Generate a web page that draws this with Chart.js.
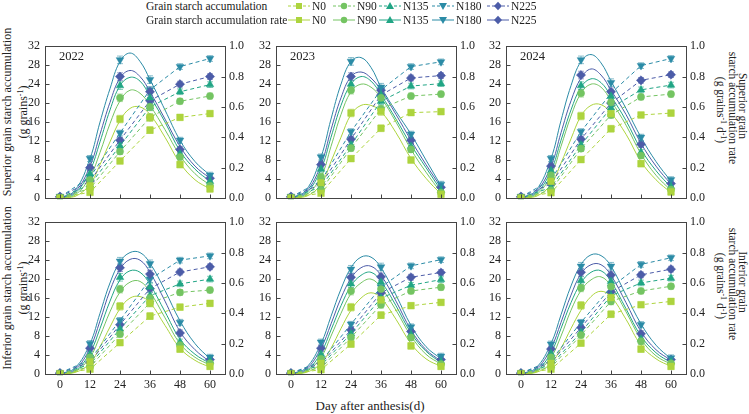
<!DOCTYPE html>
<html lang="en">
<head>
<meta charset="UTF-8">
<title>Grain starch accumulation</title>
<script src="https://cdn.jsdelivr.net/npm/chart.js"></script>
<style>
  body { margin: 0; background: #fff; }
  #page { position: relative; width: 749px; height: 414px; overflow: hidden;
          font-family: 'Liberation Serif', 'Times New Roman', serif; color: #222; }
  canvas.panel { position: absolute; }
  .lbl { position: absolute; white-space: nowrap; font-size: 12px; line-height: 14px; }
  .rotL { transform: translate(-50%, -50%) rotate(-90deg); }
  .rotR { transform: translate(-50%, -50%) rotate(90deg); font-size: 11.5px; }
  sup { font-size: 8px; line-height: 0; vertical-align: 4px; }
  .leg { position: absolute; white-space: nowrap; font-size: 11.5px; line-height: 14px; }
  svg.sym { position: absolute; }
</style>
</head>
<body>
<div id="page">
  <!-- left axis titles -->
  <div class="lbl rotL" style="left:7px;top:112px">Superior grain starch accumulation</div>
  <div class="lbl rotL" style="left:23px;top:112px">(g grains<sup>-1</sup>)</div>
  <div class="lbl rotL" style="left:7px;top:288px">Inferior grain starch accumulation</div>
  <div class="lbl rotL" style="left:23px;top:288px">(g grains<sup>-1</sup>)</div>
  <!-- right axis titles -->
  <div class="lbl rotR" style="left:743px;top:106px">Superior grain</div>
  <div class="lbl rotR" style="left:733px;top:108px">starch accumulation rate</div>
  <div class="lbl rotR" style="left:721px;top:110px">(g grains<sup>-1</sup> d<sup>-1</sup>)</div>
  <div class="lbl rotR" style="left:743px;top:282px">Inferior grain</div>
  <div class="lbl rotR" style="left:733px;top:284px">starch accumulation rate</div>
  <div class="lbl rotR" style="left:721px;top:286px">(g grains<sup>-1</sup> d<sup>-1</sup>)</div>
  <!-- x title -->
  <div class="lbl" style="left:370px;top:406px;transform:translate(-50%,-50%);font-size:13px">Day after anthesis(d)</div>
</div>

<script>
// sampling days and axis ticks
const days = [0, 12, 24, 36, 48, 60];
const fitDays = [0, 6, 12, 16, 20, 24, 28, 32, 36, 42, 48, 54, 60];
const treatments = ['N0', 'N90', 'N135', 'N180', 'N225'];
const years = ['2022', '2023', '2024'];
const xTicks = [0, 12, 24, 36, 48, 60];
const accTicks = [0, 4, 8, 12, 16, 20, 24, 28, 32];
const rateTicks = [0, 0.2, 0.4, 0.6, 0.8, 1.0];
const accErr = [0.1, 0.4, 0.6, 0.7, 0.6, 0.6];
const rateErr = [0.005, 0.02, 0.025, 0.025, 0.02, 0.02];

// rows are N0, N90, N135, N180, N225
// superior grain 2022
const supAcc22 = [
  [0.1, 1.2, 7.8, 14.3, 17.0, 17.8],
  [0.1, 2.0, 9.8, 17.0, 20.4, 21.5],
  [0.1, 2.8, 11.0, 19.2, 22.4, 23.9],
  [0.2, 4.4, 13.7, 22.8, 27.7, 29.4],
  [0.2, 3.6, 12.2, 20.5, 24.0, 25.6]
];
const supRate22 = [
  [0.0, 0.08, 0.52, 0.53, 0.22, 0.06],
  [0.0, 0.12, 0.66, 0.60, 0.27, 0.08],
  [0.0, 0.16, 0.74, 0.66, 0.29, 0.11],
  [0.01, 0.26, 0.91, 0.78, 0.38, 0.15],
  [0.01, 0.20, 0.80, 0.70, 0.32, 0.13]
];
const supFit22 = [
  [0, 0.01, 0.09, 0.22, 0.37, 0.51, 0.59, 0.60, 0.55, 0.40, 0.23, 0.12, 0.06],
  [0, 0.02, 0.14, 0.30, 0.49, 0.64, 0.71, 0.69, 0.61, 0.45, 0.28, 0.16, 0.085],
  [0, 0.03, 0.18, 0.37, 0.58, 0.74, 0.795, 0.77, 0.67, 0.50, 0.31, 0.19, 0.11],
  [0, 0.05, 0.26, 0.50, 0.72, 0.90, 0.955, 0.90, 0.78, 0.58, 0.38, 0.24, 0.15],
  [0, 0.04, 0.21, 0.42, 0.63, 0.79, 0.84, 0.80, 0.70, 0.52, 0.34, 0.21, 0.13]
];
// superior grain 2023
const supAcc23 = [
  [0.1, 1.0, 8.3, 14.7, 18.0, 18.2],
  [0.1, 1.6, 10.5, 18.8, 21.5, 21.9],
  [0.1, 2.3, 11.2, 20.4, 23.6, 24.1],
  [0.2, 3.6, 14.0, 22.8, 27.7, 28.7],
  [0.2, 2.9, 12.4, 21.7, 25.3, 25.8]
];
const supRate23 = [
  [0.0, 0.10, 0.56, 0.57, 0.25, 0.025],
  [0.0, 0.14, 0.71, 0.66, 0.32, 0.035],
  [0.0, 0.19, 0.75, 0.68, 0.34, 0.05],
  [0.01, 0.27, 0.90, 0.73, 0.42, 0.09],
  [0.01, 0.22, 0.80, 0.71, 0.38, 0.07]
];
const supFit23 = [
  [0, 0.01, 0.09, 0.24, 0.40, 0.55, 0.61, 0.61, 0.57, 0.43, 0.26, 0.13, 0.025],
  [0, 0.02, 0.14, 0.34, 0.55, 0.70, 0.75, 0.73, 0.66, 0.50, 0.32, 0.17, 0.035],
  [0, 0.03, 0.19, 0.40, 0.61, 0.75, 0.80, 0.77, 0.68, 0.52, 0.35, 0.20, 0.05],
  [0, 0.05, 0.27, 0.52, 0.75, 0.90, 0.925, 0.86, 0.73, 0.57, 0.42, 0.25, 0.08],
  [0, 0.04, 0.22, 0.45, 0.66, 0.80, 0.83, 0.79, 0.71, 0.55, 0.38, 0.22, 0.07]
];
// superior grain 2024
const supAcc24 = [
  [0.1, 1.1, 8.1, 14.6, 17.5, 17.9],
  [0.1, 1.6, 10.4, 17.5, 21.3, 21.9],
  [0.1, 2.2, 11.2, 19.0, 22.8, 23.8],
  [0.2, 3.8, 14.0, 22.1, 27.9, 29.4],
  [0.2, 3.0, 12.4, 20.0, 24.8, 26.0]
];
const supRate24 = [
  [0.0, 0.11, 0.54, 0.556, 0.226, 0.04],
  [0.0, 0.15, 0.69, 0.63, 0.28, 0.055],
  [0.0, 0.18, 0.74, 0.67, 0.30, 0.075],
  [0.01, 0.26, 0.91, 0.76, 0.40, 0.12],
  [0.01, 0.21, 0.81, 0.70, 0.354, 0.095]
];
const supFit24 = [
  [0, 0.01, 0.09, 0.23, 0.39, 0.54, 0.61, 0.615, 0.56, 0.42, 0.24, 0.12, 0.035],
  [0, 0.02, 0.15, 0.34, 0.54, 0.69, 0.75, 0.73, 0.64, 0.48, 0.29, 0.15, 0.05],
  [0, 0.03, 0.18, 0.38, 0.58, 0.73, 0.785, 0.76, 0.67, 0.51, 0.32, 0.18, 0.07],
  [0, 0.05, 0.26, 0.51, 0.74, 0.90, 0.945, 0.89, 0.77, 0.59, 0.40, 0.24, 0.11],
  [0, 0.04, 0.21, 0.43, 0.64, 0.79, 0.85, 0.81, 0.71, 0.55, 0.36, 0.21, 0.09]
];
// inferior grain 2022
const infAcc22 = [
  [0.1, 1.0, 6.6, 12.2, 14.1, 14.9],
  [0.1, 1.5, 8.4, 15.0, 17.2, 17.7],
  [0.1, 2.0, 9.5, 16.5, 19.0, 20.0],
  [0.2, 3.0, 11.3, 20.0, 24.0, 24.9],
  [0.2, 2.5, 10.4, 18.0, 21.5, 22.6]
];
const infRate22 = [
  [0.0, 0.08, 0.446, 0.467, 0.164, 0.05],
  [0.0, 0.11, 0.559, 0.50, 0.19, 0.07],
  [0.0, 0.13, 0.637, 0.573, 0.21, 0.085],
  [0.005, 0.20, 0.743, 0.726, 0.34, 0.11],
  [0.005, 0.17, 0.70, 0.658, 0.27, 0.095]
];
const infFit22 = [
  [0, 0.01, 0.07, 0.18, 0.31, 0.43, 0.50, 0.51, 0.47, 0.32, 0.17, 0.09, 0.045],
  [0, 0.015, 0.11, 0.25, 0.41, 0.54, 0.605, 0.61, 0.54, 0.37, 0.20, 0.11, 0.06],
  [0, 0.02, 0.14, 0.30, 0.48, 0.62, 0.68, 0.67, 0.59, 0.41, 0.23, 0.13, 0.07],
  [0, 0.04, 0.20, 0.40, 0.60, 0.74, 0.80, 0.80, 0.73, 0.55, 0.35, 0.20, 0.10],
  [0, 0.03, 0.17, 0.35, 0.55, 0.69, 0.755, 0.75, 0.67, 0.48, 0.28, 0.16, 0.08]
];
// inferior grain 2023
const infAcc23 = [
  [0.1, 0.9, 6.3, 12.4, 14.4, 15.1],
  [0.1, 1.3, 7.7, 14.6, 17.5, 18.3],
  [0.1, 1.8, 8.5, 16.0, 18.7, 19.9],
  [0.2, 2.6, 10.5, 18.3, 22.8, 24.1],
  [0.2, 2.2, 9.3, 17.1, 20.4, 21.4]
];
const infRate23 = [
  [0.0, 0.07, 0.44, 0.488, 0.185, 0.05],
  [0.0, 0.10, 0.546, 0.56, 0.24, 0.065],
  [0.0, 0.13, 0.594, 0.605, 0.26, 0.08],
  [0.005, 0.21, 0.69, 0.705, 0.31, 0.117],
  [0.005, 0.17, 0.637, 0.64, 0.28, 0.095]
];
const infFit23 = [
  [0, 0.01, 0.07, 0.17, 0.30, 0.42, 0.50, 0.535, 0.50, 0.36, 0.20, 0.10, 0.05],
  [0, 0.015, 0.11, 0.25, 0.40, 0.53, 0.60, 0.625, 0.57, 0.42, 0.25, 0.13, 0.065],
  [0, 0.02, 0.14, 0.29, 0.45, 0.58, 0.65, 0.67, 0.61, 0.45, 0.27, 0.15, 0.075],
  [0, 0.04, 0.20, 0.38, 0.56, 0.70, 0.77, 0.77, 0.70, 0.52, 0.32, 0.18, 0.10],
  [0, 0.03, 0.17, 0.33, 0.50, 0.63, 0.70, 0.71, 0.65, 0.48, 0.29, 0.16, 0.085]
];
// inferior grain 2024
const infAcc24 = [
  [0.1, 1.0, 6.5, 12.6, 14.6, 15.3],
  [0.1, 1.4, 8.2, 15.3, 17.5, 18.5],
  [0.1, 1.9, 8.8, 16.5, 19.2, 20.2],
  [0.2, 2.8, 10.9, 18.3, 23.1, 24.5],
  [0.2, 2.4, 9.8, 17.3, 20.9, 22.1]
];
const infRate24 = [
  [0.0, 0.07, 0.452, 0.503, 0.164, 0.05],
  [0.0, 0.11, 0.567, 0.575, 0.215, 0.07],
  [0.0, 0.135, 0.616, 0.61, 0.23, 0.08],
  [0.005, 0.197, 0.71, 0.71, 0.325, 0.106],
  [0.005, 0.165, 0.67, 0.652, 0.265, 0.095]
];
const infFit24 = [
  [0, 0.01, 0.07, 0.17, 0.30, 0.42, 0.51, 0.545, 0.51, 0.36, 0.19, 0.10, 0.05],
  [0, 0.015, 0.11, 0.25, 0.42, 0.55, 0.62, 0.64, 0.58, 0.41, 0.23, 0.12, 0.065],
  [0, 0.02, 0.14, 0.30, 0.47, 0.60, 0.67, 0.68, 0.61, 0.43, 0.25, 0.14, 0.075],
  [0, 0.04, 0.20, 0.39, 0.58, 0.72, 0.785, 0.78, 0.71, 0.52, 0.33, 0.19, 0.10],
  [0, 0.03, 0.17, 0.34, 0.52, 0.66, 0.72, 0.72, 0.65, 0.47, 0.28, 0.16, 0.09]
];

// styles
const colors = ['#add43e', '#74c462', '#21a585', '#2b8ba6', '#4c5ca8'];
const errColors = ['rgba(173,212,62,0.55)', 'rgba(116,196,98,0.55)', 'rgba(33,165,133,0.55)',
                   'rgba(43,139,166,0.55)', 'rgba(76,92,168,0.55)'];
const shapes = ['rect', 'circle', 'triangle', 'triangle', 'rectRot'];
const rotations = [0, 0, 0, 180, 0];
const radii = [4.7, 3.6, 4.4, 4.4, 4.6];
const FONT = "'Liberation Serif', 'Times New Roman', serif";

const colX = [45, 276, 506];
const rowY = [42, 218];
const plotW = 180, plotH = 156;
const padL = 36, padR = 34, padT = 8, axisH = 22;

const panels = [
  { row: 0, col: 0, acc: supAcc22, rate: supRate22, fit: supFit22 },
  { row: 0, col: 1, acc: supAcc23, rate: supRate23, fit: supFit23 },
  { row: 0, col: 2, acc: supAcc24, rate: supRate24, fit: supFit24 },
  { row: 1, col: 0, acc: infAcc22, rate: infRate22, fit: infFit22 },
  { row: 1, col: 1, acc: infAcc23, rate: infRate23, fit: infFit23 },
  { row: 1, col: 2, acc: infAcc24, rate: infRate24, fit: infFit24 }
];

// error bars under markers, then frame + inward ticks + year
const panelDeco = {
  id: 'panelDeco',
  beforeDatasetsDraw(chart) {
    const ctx = chart.ctx;
    chart.data.datasets.forEach((ds, i) => {
      if (!ds.errors) return;
      const meta = chart.getDatasetMeta(i);
      const ys = chart.scales[ds.yAxisID];
      ctx.save();
      ctx.strokeStyle = ds.errColor;
      ctx.lineWidth = 1;
      meta.data.forEach((pt, j) => {
        const v = ds.data[j].y, e = ds.errors[j];
        const y0 = ys.getPixelForValue(v - e), y1 = ys.getPixelForValue(v + e);
        ctx.beginPath();
        ctx.moveTo(pt.x, y0); ctx.lineTo(pt.x, y1);
        ctx.moveTo(pt.x - 3, y0); ctx.lineTo(pt.x + 3, y0);
        ctx.moveTo(pt.x - 3, y1); ctx.lineTo(pt.x + 3, y1);
        ctx.stroke();
      });
      ctx.restore();
    });
  },
  afterDraw(chart, args, opts) {
    const ctx = chart.ctx;
    const a = chart.chartArea;
    const l = Math.round(a.left) + 0.5, r = Math.round(a.right) + 0.5;
    const t = Math.round(a.top) + 0.5, b = Math.round(a.bottom) + 0.5;
    ctx.save();
    ctx.strokeStyle = '#444';
    ctx.lineWidth = 1;
    ctx.strokeRect(l, t, r - l, b - t);
    ctx.beginPath();
    xTicks.forEach(v => {
      const px = Math.round(chart.scales.x.getPixelForValue(v)) + 0.5;
      ctx.moveTo(px, b); ctx.lineTo(px, b - 4);
    });
    accTicks.forEach(v => {
      const py = Math.round(chart.scales.y.getPixelForValue(v)) + 0.5;
      ctx.moveTo(l, py); ctx.lineTo(l + 4, py);
    });
    rateTicks.forEach(v => {
      const py = Math.round(chart.scales.y1.getPixelForValue(v)) + 0.5;
      ctx.moveTo(r, py); ctx.lineTo(r - 4, py);
    });
    ctx.stroke();
    if (opts.year) {
      ctx.fillStyle = '#222';
      ctx.font = '12.5px ' + FONT;
      ctx.textBaseline = 'middle';
      ctx.fillText(opts.year, a.left + 14, a.top + 11);
    }
    ctx.restore();
  }
};

const page = document.getElementById('page');

panels.forEach(p => {
  const cv = document.createElement('canvas');
  cv.className = 'panel';
  cv.width = padL + plotW + padR;
  cv.height = padT + plotH + axisH;
  cv.style.left = (colX[p.col] - padL) + 'px';
  cv.style.top = (rowY[p.row] - padT) + 'px';
  page.appendChild(cv);

  const datasets = [];
  treatments.forEach((t, i) => {
    datasets.push({
      label: t + ' accumulation',
      data: days.map((d, j) => ({ x: d, y: p.acc[i][j] })),
      yAxisID: 'y',
      borderColor: colors[i], backgroundColor: colors[i],
      borderWidth: 1, borderDash: [4, 3],
      pointStyle: shapes[i], pointRotation: rotations[i], pointRadius: radii[i],
      pointBorderWidth: 0.5,
      errors: accErr, errColor: errColors[i],
      order: 1
    });
    datasets.push({
      label: t + ' rate',
      data: days.map((d, j) => ({ x: d, y: p.rate[i][j] })),
      yAxisID: 'y1', showLine: false,
      borderColor: colors[i], backgroundColor: colors[i],
      pointStyle: shapes[i], pointRotation: rotations[i], pointRadius: radii[i],
      pointBorderWidth: 0.5,
      errors: rateErr, errColor: errColors[i],
      order: 0
    });
    datasets.push({
      label: t + ' fitted rate',
      data: fitDays.map((d, j) => ({ x: d, y: p.fit[i][j] })),
      yAxisID: 'y1',
      borderColor: colors[i], borderWidth: 1,
      pointRadius: 0, tension: 0.4,
      order: 2
    });
  });

  const tickFont = { family: FONT, size: 12 };
  const noGrid = { display: false, drawTicks: false };
  new Chart(cv, {
    type: 'line',
    data: { datasets },
    options: {
      responsive: false,
      animation: false,
      events: [],
      layout: { padding: { top: padT, left: 0, right: 0, bottom: 0 } },
      plugins: {
        legend: { display: false },
        tooltip: { enabled: false },
        panelDeco: { year: p.row === 0 ? years[p.col] : '' }
      },
      scales: {
        x: {
          type: 'linear', min: -6, max: 66,
          afterBuildTicks: s => { s.ticks = xTicks.map(v => ({ value: v })); },
          afterFit: s => { s.height = axisH; },
          grid: noGrid, border: { display: false },
          ticks: { display: p.row === 1, padding: 4, font: tickFont, color: '#222',
                   maxRotation: 0, autoSkip: false }
        },
        y: {
          position: 'left', min: 0, max: 32,
          afterBuildTicks: s => { s.ticks = accTicks.map(v => ({ value: v })); },
          afterFit: s => { s.width = padL; },
          grid: noGrid, border: { display: false },
          ticks: { padding: 5, font: tickFont, color: '#222' }
        },
        y1: {
          position: 'right', min: 0, max: 1,
          afterBuildTicks: s => { s.ticks = rateTicks.map(v => ({ value: v })); },
          afterFit: s => { s.width = padR; },
          grid: noGrid, border: { display: false },
          ticks: { padding: 4, font: tickFont, color: '#222', callback: v => v.toFixed(1) }
        }
      }
    },
    plugins: [panelDeco]
  });
});

// legend (two rows: dashed = accumulation, solid = rate)
const legendRows = [
  { y: 6, text: 'Grain starch accumulation', dash: '3,2' },
  { y: 20, text: 'Grain starch accumulation rate', dash: '' }
];
const legendMarkX = [299, 344, 390, 443, 498];
const svgNS = 'http://www.w3.org/2000/svg';
function markerSvg(i) {
  const c = colors[i];
  if (shapes[i] === 'rect') return `<rect x="8" y="3" width="6" height="6" fill="${c}"/>`;
  if (shapes[i] === 'circle') return `<circle cx="11" cy="6" r="3.2" fill="${c}"/>`;
  if (shapes[i] === 'rectRot') return `<polygon points="11,1.8 15,6 11,10.2 7,6" fill="${c}"/>`;
  if (rotations[i] === 180) return `<polygon points="7,3 15,3 11,10" fill="${c}"/>`;
  return `<polygon points="11,2 15,9 7,9" fill="${c}"/>`;
}
legendRows.forEach(row => {
  const lab = document.createElement('div');
  lab.className = 'leg';
  lab.style.left = '146px';
  lab.style.top = (row.y - 7) + 'px';
  lab.textContent = row.text;
  page.appendChild(lab);
  treatments.forEach((t, i) => {
    const mx = legendMarkX[i];
    const holder = document.createElement('div');
    holder.innerHTML = `<svg class="sym" xmlns="${svgNS}" width="22" height="12" style="left:${mx - 11}px;top:${row.y - 6}px">` +
      `<line x1="0" y1="6" x2="22" y2="6" stroke="${colors[i]}" stroke-width="1"` +
      (row.dash ? ` stroke-dasharray="${row.dash}"` : '') + `/>` + markerSvg(i) + `</svg>`;
    page.appendChild(holder.firstChild);
    const tx = document.createElement('div');
    tx.className = 'leg';
    tx.style.left = (mx + 13) + 'px';
    tx.style.top = (row.y - 7) + 'px';
    tx.textContent = t;
    page.appendChild(tx);
  });
});
</script>
</body>
</html>
